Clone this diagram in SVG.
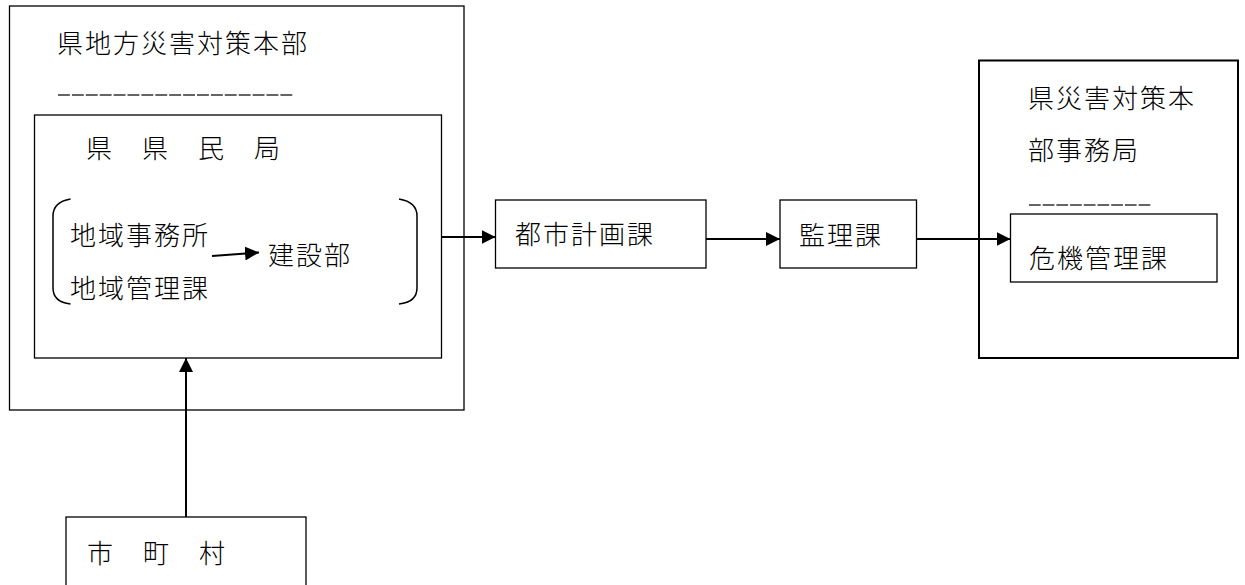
<svg xmlns="http://www.w3.org/2000/svg" width="1245" height="585" viewBox="0 0 1245 585">
  <defs>
    <style>
      .box { fill: #fff; stroke: #000; stroke-width: 1.3; }
      .boxb { fill: #fff; stroke: #000; stroke-width: 2; }
      .t { font-family: "Noto Sans CJK JP", "Noto Sans CJK SC", sans-serif; font-size: 26px; font-weight: 300; letter-spacing: 2px; fill: #000; }
      .conn { fill: none; stroke: #000; stroke-width: 2; marker-end: url(#arr); }
      .dash { stroke: #333; stroke-width: 1.6; }
      .br { fill: none; stroke: #000; stroke-width: 1.5; }
    </style>
    <marker id="arr" markerUnits="userSpaceOnUse" markerWidth="15" markerHeight="15" refX="14" refY="7" orient="auto">
      <path d="M0,0 L14,7 L0,14 z" fill="#000"/>
    </marker>
  </defs>
  <rect width="1245" height="585" fill="#fff"/>

  <g id="hq">
    <rect class="box" x="9.5" y="6" width="454.5" height="404"/>
    <text class="t" x="57" y="53">県地方災害対策本部</text>
    <line class="dash" x1="58" y1="95" x2="294" y2="95" stroke-dasharray="11.9 2"/>
  </g>

  <g id="kenminkyoku">
    <rect class="box" x="34.5" y="115" width="407" height="243"/>
    <text class="t" x="86" y="158">県　県　民　局</text>
    <path class="br" d="M70.5,199 Q53,202 53,216 L53,288 Q53,302 70.5,304"/>
    <path class="br" d="M399,199 Q417,202 417,216 L417,288 Q417,302 399,304"/>
    <text class="t" x="70" y="245">地域事務所</text>
    <text class="t" x="70" y="298">地域管理課</text>
    <text class="t" x="268" y="265">建設部</text>
  </g>

  <g id="toshikeikaku">
    <rect class="box" x="495.5" y="200" width="210.5" height="68"/>
    <text class="t" x="515" y="244">都市計画課</text>
  </g>

  <g id="kanri">
    <rect class="box" x="780" y="200" width="136.5" height="68"/>
    <text class="t" x="799" y="245">監理課</text>
  </g>

  <g id="jimukyoku">
    <rect class="boxb" x="979" y="60.5" width="259" height="297.5"/>
    <text class="t" x="1028" y="108">県災害対策本</text>
    <text class="t" x="1028" y="160">部事務局</text>
    <line class="dash" x1="1029" y1="205" x2="1152" y2="205" stroke-dasharray="11.7 2"/>
  </g>

  <g id="kikikanri">
    <rect class="box" x="1010.5" y="214" width="206.5" height="68"/>
    <text class="t" x="1029" y="268">危機管理課</text>
  </g>

  <g id="shichoson">
    <rect class="box" x="66" y="517" width="240" height="80"/>
    <text class="t" x="87" y="563">市　町　村</text>
  </g>

  <g id="connectors">
    <line class="conn" x1="212" y1="256" x2="259" y2="252.5"/>
    <line class="conn" x1="441.5" y1="237" x2="495.5" y2="237"/>
    <line class="conn" x1="706" y1="239" x2="780" y2="239"/>
    <line class="conn" x1="916.5" y1="239" x2="1010.5" y2="239"/>
    <line class="conn" x1="186" y1="517" x2="186" y2="358"/>
  </g>
</svg>
